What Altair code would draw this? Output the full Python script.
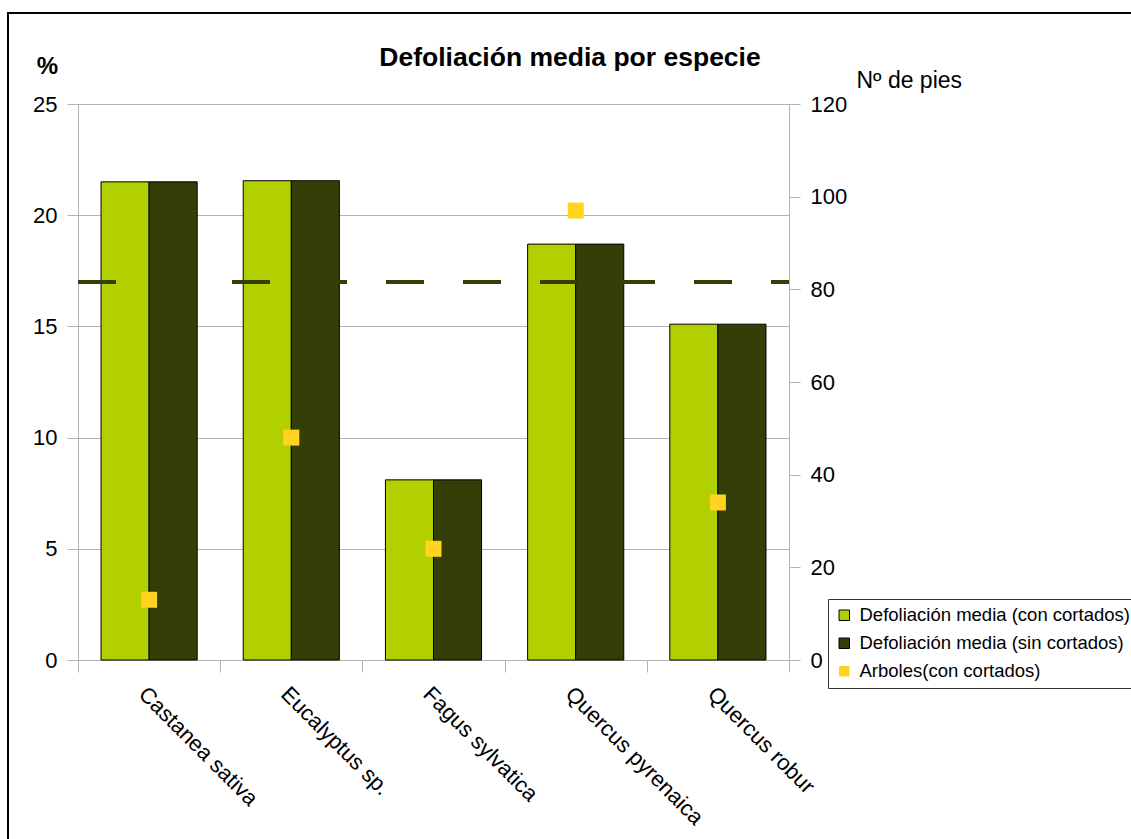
import altair as alt
import pandas as pd

species = ["Castanea sativa", "Eucalyptus sp.", "Fagus sylvatica",
           "Quercus pyrenaica", "Quercus robur"]
defol_con = [21.5, 21.55, 8.1, 18.7, 15.1]
defol_sin = [21.5, 21.55, 8.1, 18.7, 15.1]
arboles = [13, 48, 24, 97, 34]
reference_level = [17]
series_names = ["Defoliación media (con cortados)",
                "Defoliación media (sin cortados)",
                "Arboles(con cortados)"]
series_colors = ["#B2D000", "#333F06", "#FFD320"]
left_ticks = [0, 5, 10, 15, 20, 25]
right_ticks = [0, 20, 40, 60, 80, 100, 120]
chart_title = ["Defoliación media por especie"]

FONT = "Liberation Sans"
GRID = "#b3b3b3"
W, H = 711, 556

bars_df = pd.DataFrame({
    "especie": species * 2,
    "serie": [series_names[0]] * len(species) + [series_names[1]] * len(species),
    "valor": defol_con + defol_sin,
})
pts_df = pd.DataFrame({"especie": species, "serie": series_names[2], "arboles": arboles})
ref_df = pd.DataFrame({"nivel": reference_level})
title_df = pd.DataFrame({"t": chart_title})

color_scale = alt.Scale(domain=series_names, range=series_colors)

x_axis = alt.Axis(
    title=None, labelAngle=45, labelAlign="left", labelBaseline="top",
    tickBand="extent", tickSize=12, labelPadding=11, labelFont=FONT,
    labelFontSize=22, labelColor="black", domainColor=GRID, tickColor=GRID,
    grid=False, labelLimit=400,
)
x_enc = alt.X("especie:N", sort=species,
              scale=alt.Scale(paddingInner=0, paddingOuter=0),
              axis=x_axis)

legend = alt.Legend(
    title=None, orient="none", legendX=750, legendY=495,
    symbolType="square", symbolSize=110, symbolStrokeColor="black",
    symbolStrokeWidth={"expr": "datum.value === 'Arboles(con cortados)' ? 0 : 1"},
    symbolOpacity=1, labelLimit=500,
    labelFont=FONT, labelFontSize=18.5, labelColor="black", labelOffset=6,
    strokeColor="#333333", fillColor="white", padding=7, rowPadding=9,
)

border = alt.Chart(title_df).mark_rect(fill=None, stroke="black", strokeWidth=2).encode(
    x=alt.value(-70), x2=alt.value(1100), y=alt.value(-91), y2=alt.value(800),
)

bars = alt.Chart(bars_df).mark_bar(stroke="black", strokeWidth=1).encode(
    x=x_enc,
    xOffset=alt.XOffset("serie:N", sort=series_names[:2],
                        scale=alt.Scale(domain=series_names[:2], paddingInner=0,
                                        paddingOuter=0.479)),
    y=alt.Y("valor:Q", scale=alt.Scale(domain=[0, 25], nice=False),
            axis=alt.Axis(values=left_ticks, title="%", titleAngle=0,
                          titleAlign="center", titleBaseline="alphabetic",
                          titleX=-31, titleY=-31, titleFont=FONT,
                          titleFontSize=24, titleFontWeight="bold",
                          titleColor="black", orient="left",
                          labelFont=FONT, labelFontSize=22, labelColor="black",
                          labelPadding=10, tickSize=11, tickColor=GRID,
                          domainColor=GRID, grid=True, gridColor=GRID)),
    color=alt.Color("serie:N", scale=color_scale, legend=legend),
)

rule = alt.Chart(ref_df).mark_rule(color="#333F06", strokeWidth=4,
                                   strokeDash=[38, 39]).encode(
    x=alt.value(0), x2=alt.value(W),
    y=alt.Y("nivel:Q", scale=alt.Scale(domain=[0, 25], nice=False), axis=None),
)

title_text = alt.Chart(title_df).mark_text(
    font=FONT, fontSize=26.5, fontWeight="bold", align="center",
    baseline="alphabetic", color="black",
).encode(x=alt.value(492), y=alt.value(-38), text="t:N")

points = alt.Chart(pts_df).mark_square(size=256, opacity=1).encode(
    x=x_enc,
    y=alt.Y("arboles:Q", scale=alt.Scale(domain=[0, 120], nice=False),
            axis=alt.Axis(values=right_ticks, orient="right", title="Nº de pies",
                          titleAngle=0, titleAlign="left",
                          titleBaseline="alphabetic", titleX=67, titleY=-17,
                          titleFont=FONT, titleFontSize=23,
                          titleFontWeight="normal", titleColor="black",
                          labelFont=FONT, labelFontSize=22, labelColor="black",
                          labelPadding=10, tickSize=11, tickColor=GRID,
                          domainColor=GRID, grid=False)),
    color=alt.Color("serie:N", scale=color_scale, legend=legend),
)

chart = alt.layer(border, bars, rule, points, title_text).resolve_scale(
    y="independent"
).properties(
    width=W, height=H,
    padding={"left": 78, "top": 104, "right": 342, "bottom": 179},
    autosize="none",
    background="white",
).configure_view(stroke=None)

chart.save("out.html", embed_options={"renderer": "svg", "actions": False})
